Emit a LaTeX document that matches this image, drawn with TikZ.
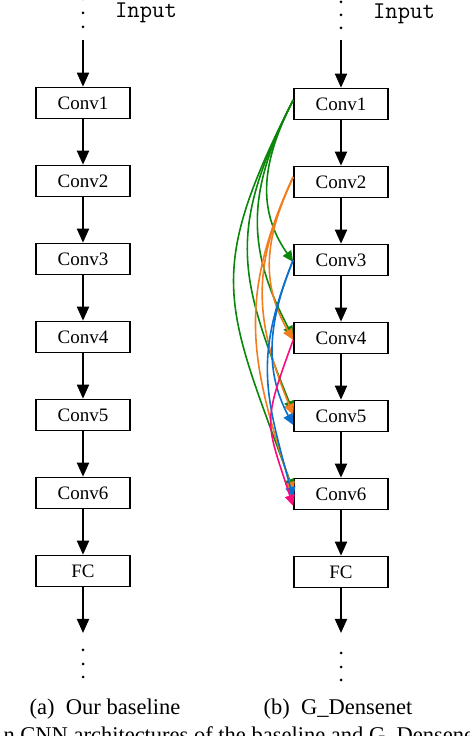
\documentclass[tikz,border=0pt]{standalone}
\usepackage{fontspec}
\setmainfont{Liberation Serif}
\usetikzlibrary{arrows.meta}
\definecolor{cgreen}{RGB}{10,135,10}
\definecolor{corange}{RGB}{242,125,30}
\definecolor{cblue}{RGB}{10,112,205}
\definecolor{cpink}{RGB}{250,10,125}
\tikzset{
  layer/.style={draw, line width=1.6pt, minimum width=94pt, minimum height=31pt, inner sep=0pt, font=\fontsize{19}{22}\selectfont},
  flow/.style={line width=1.9pt, -{Triangle[length=14pt,width=12pt]}},
  dotn/.style={circle, fill, inner sep=0pt, minimum size=3pt},
  dense/.style={line width=1.6pt, -{Triangle[length=11pt,width=10pt]}},
  gline/.style={dense, cgreen},
  oline/.style={dense, corange},
  bline/.style={dense, cblue},
  pline/.style={dense, cpink},
  inputlbl/.style={font=\ttfamily\fontsize{24}{26}\selectfont, anchor=base},
  caplbl/.style={font=\fontsize{22.5}{26}\selectfont, anchor=base}
}
\begin{document}
\begin{tikzpicture}[x=1pt,y=1pt]
\useasboundingbox (0,0) rectangle (470,736);
\clip (0,0) rectangle (470,736);
% ---------- left column ----------
\node[dotn] (ld1) at (83,737) {};
\node[dotn] (ld2) at (83,723) {};
\node[dotn] (ld3) at (83,709) {};
\coordinate (lin) at (83,696);
\node[inputlbl] (linp) at (146,718) {Input};
\node[layer] (a1) at (83,633) {Conv1};
\node[layer] (a2) at (83,555) {Conv2};
\node[layer] (a3) at (83,477) {Conv3};
\node[layer] (a4) at (83,399) {Conv4};
\node[layer] (a5) at (83,321) {Conv5};
\node[layer] (a6) at (83,243) {Conv6};
\node[layer] (a7) at (83,165) {FC};
\coordinate (lout) at (83,103);
\node[dotn] (le1) at (83,86) {};
\node[dotn] (le2) at (83,72) {};
\node[dotn] (le3) at (83,59) {};
\draw[flow] (lin) -- (a1);
\draw[flow] (a1) -- (a2);
\draw[flow] (a2) -- (a3);
\draw[flow] (a3) -- (a4);
\draw[flow] (a4) -- (a5);
\draw[flow] (a5) -- (a6);
\draw[flow] (a6) -- (a7);
\draw[flow] (a7) -- (lout);
% ---------- right column ----------
\node[dotn] (rd1) at (341,734) {};
\node[dotn] (rd2) at (341,721) {};
\node[dotn] (rd3) at (341,708) {};
\coordinate (rin) at (341,696);
\node[inputlbl] (rinp) at (404,717) {Input};
\node[layer] (c1) at (341,632) {Conv1};
\node[layer] (c2) at (341,554) {Conv2};
\node[layer] (c3) at (341,476) {Conv3};
\node[layer] (c4) at (341,398) {Conv4};
\node[layer] (c5) at (341,320) {Conv5};
\node[layer] (c6) at (341,242) {Conv6};
\node[layer] (c7) at (341,164) {FC};
\coordinate (rout) at (341,103);
\node[dotn] (re1) at (341,83) {};
\node[dotn] (re2) at (341,69) {};
\node[dotn] (re3) at (341,56) {};
\draw[flow] (rin) -- (c1);
\draw[flow] (c1) -- (c2);
\draw[flow] (c2) -- (c3);
\draw[flow] (c3) -- (c4);
\draw[flow] (c4) -- (c5);
\draw[flow] (c5) -- (c6);
\draw[flow] (c6) -- (c7);
\draw[flow] (c7) -- (rout);
% dense connections
\draw[gline] ([yshift=4pt]c1.west) to[out=243,in=125,looseness=1.05] ([yshift=-2pt]c3.west);
\draw[gline] ([yshift=4pt]c1.west) to[out=243,in=118,looseness=1.1] ([yshift=1pt]c4.west);
\draw[gline] ([yshift=4pt]c1.west) to[out=243,in=112,looseness=1.2] ([yshift=4pt]c5.west);
\draw[gline] ([yshift=4pt]c1.west) to[out=243,in=110,looseness=1.3] ([yshift=4pt]c6.west);
\draw[oline] ([yshift=5pt]c2.west) to[out=245,in=120,looseness=1.05] ([yshift=-2pt]c4.west);
\draw[oline] ([yshift=5pt]c2.west) to[out=245,in=112,looseness=1.1] ([yshift=1pt]c5.west);
\draw[oline] ([yshift=5pt]c2.west) to[out=245,in=108,looseness=1.1] ([yshift=1pt]c6.west);
\draw[bline] ([yshift=0pt]c3.west) to[out=248,in=118,looseness=1.0] ([yshift=-9pt]c5.west);
\draw[bline] ([yshift=0pt]c3.west) to[out=248,in=105,looseness=1.15] ([yshift=-4pt]c6.west);
\draw[pline] ([yshift=-2pt]c4.west) to[out=250,in=108,looseness=1.4] ([yshift=-12pt]c6.west);
% captions
\node[caplbl] (capa) at (105,21) {(a)~~Our baseline};
\node[caplbl] (capb) at (338,21) {(b)~~G\_Densenet};
\node[caplbl, anchor=base west] (capc) at (0,-6) {n CNN architectures of the baseline and G\_Densene};
\end{tikzpicture}
\end{document}
